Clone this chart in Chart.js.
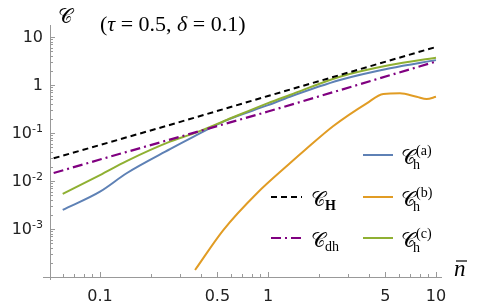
<!DOCTYPE html>
<html>
<head>
<meta charset="utf-8">
<script src="https://cdn.jsdelivr.net/npm/chart.js@4.4.1/dist/chart.umd.min.js"></script>
<style>
html, body { margin: 0; padding: 0; background: #fff; }
#wrap { width: 482px; height: 306px; }
</style>
</head>
<body>
<div id="wrap"><canvas id="grafico" width="482" height="306"></canvas></div>
<script>
// Valores (n̄, C)
const nH = [0.053, 0.26, 1, 10];
const cH = [0.0297, 0.147, 0.59, 6.2];

const nDh = [0.053, 0.1, 1, 10];
const cDh = [0.0147, 0.028, 0.28, 3.08];

const nA = [0.06, 0.1, 0.144, 0.261, 0.359, 0.568, 1, 1.35, 2.68, 5.33, 10];
const cA = [0.0025, 0.006, 0.0145, 0.046, 0.083, 0.185, 0.38, 0.57, 1.27, 2.23, 3.3];

const nB = [0.368, 0.542, 0.857, 1.35, 1.66, 2.45, 3.87, 4.86, 6.1, 7.67, 8.8, 10];
const cB = [0.00014, 0.00095, 0.0055, 0.0234, 0.0442, 0.14, 0.416, 0.65, 0.67, 0.57, 0.51, 0.57];

const nC = [0.06, 0.1, 0.144, 0.261, 0.359, 0.568, 1, 1.35, 2.68, 5.33, 10];
const cC = [0.0054, 0.0133, 0.026, 0.066, 0.097, 0.187, 0.42, 0.62, 1.49, 2.61, 3.7];

// Marcas de los ejes
const xTicks = [0.1, 0.5, 1, 5, 10];
const xTickLabels = ['0.1', '0.5', '1', '5', '10'];
const xMinor = [0.06, 0.07, 0.08, 0.09, 0.2, 0.3, 0.4, 0.6, 0.7, 0.8, 0.9, 2, 3, 4, 6, 7, 8, 9];
const yTicks = [10, 1, 0.1, 0.01, 0.001, 0.0001];
const yTickLabels = [['10', ''], ['1', ''], ['10', '-1'], ['10', '-2'], ['10', '-3'], ['', '']];

const azul = '#5E81B5';
const naranja = '#E19C24';
const verde = '#8FB032';
const morado = '#800080';

const serif = '"Liberation Serif", "DejaVu Serif", serif';
const sans = '"DejaVu Sans", sans-serif';

function puntos(xs, ys) {
    return xs.map((x, i) => ({ x: x, y: ys[i] }));
}

// Dibuja texto en trozos (cursiva, subíndices...)
function trozos(ctx, x, y, partes) {
    partes.forEach(p => {
        ctx.font = p.f;
        ctx.fillText(p.t, x, y + (p.dy || 0));
        x += ctx.measureText(p.t).width;
    });
    return x;
}

function letraC(ctx, x, y, size) {
    ctx.font = size + 'px ' + serif;
    ctx.fillText('𝒞', x, y);
    return x + ctx.measureText('𝒞').width;
}

const ejes = {
    id: 'ejes',
    afterDraw(chart) {
        const ctx = chart.ctx;
        const xs = chart.scales.x;
        const ys = chart.scales.y;
        const area = chart.chartArea;
        const x0 = area.left, y0 = area.bottom;

        ctx.save();
        ctx.strokeStyle = '#999';
        ctx.lineWidth = 1;
        ctx.setLineDash([]);
        ctx.beginPath();
        ctx.moveTo(x0 - 7, y0 + 0.5);
        ctx.lineTo(area.right, y0 + 0.5);
        ctx.moveTo(x0 + 0.5, area.top);
        ctx.lineTo(x0 + 0.5, y0 + 3);
        ctx.stroke();

        // marcas eje x
        ctx.beginPath();
        xTicks.forEach(v => {
            const px = Math.round(xs.getPixelForValue(v)) + 0.5;
            ctx.moveTo(px, y0); ctx.lineTo(px, y0 - 5);
        });
        xMinor.forEach(v => {
            const px = Math.round(xs.getPixelForValue(v)) + 0.5;
            ctx.moveTo(px, y0); ctx.lineTo(px, y0 - 3);
        });
        // marcas eje y
        yTicks.forEach((v, i) => {
            const py = Math.round(ys.getPixelForValue(v)) + 0.5;
            ctx.moveTo(x0, py); ctx.lineTo(x0 + 5, py);
            if (i > 0) {
                for (let k = 2; k <= 9; k++) {
                    const pm = Math.round(ys.getPixelForValue(v * k)) + 0.5;
                    ctx.moveTo(x0, pm); ctx.lineTo(x0 + 3, pm);
                }
            }
        });
        for (let k = 2; k <= 9 && 10 * k <= ys.max; k++) {
            const pm = Math.round(ys.getPixelForValue(10 * k)) + 0.5;
            ctx.moveTo(x0, pm); ctx.lineTo(x0 + 3, pm);
        }
        ctx.stroke();

        // etiquetas
        ctx.fillStyle = '#222';
        ctx.textBaseline = 'alphabetic';
        ctx.textAlign = 'center';
        ctx.font = '16px ' + sans;
        xTicks.forEach((v, i) => {
            ctx.fillText(xTickLabels[i], xs.getPixelForValue(v), 301);
        });
        ctx.textAlign = 'left';
        yTicks.forEach((v, i) => {
            const [base, exp] = yTickLabels[i];
            if (!base) return;
            const py = ys.getPixelForValue(v);
            ctx.font = '16px ' + sans;
            const wb = ctx.measureText(base).width;
            ctx.font = '11px ' + sans;
            const we = exp ? ctx.measureText(exp).width : 0;
            const xi = x0 - 7 - wb - we;
            ctx.font = '16px ' + sans;
            ctx.fillText(base, xi, py + 5);
            if (exp) {
                ctx.font = '11px ' + sans;
                ctx.fillText(exp, xi + wb, py - 1);
            }
        });

        // título y etiqueta del eje
        ctx.fillStyle = '#000';
        letraC(ctx, 58, 23, 20);
        trozos(ctx, 100, 31, [
            { t: '(', f: '22px ' + serif },
            { t: 'τ', f: 'italic 22px ' + serif },
            { t: ' = 0.5, ', f: '22px ' + serif },
            { t: 'δ', f: 'italic 22px ' + serif },
            { t: ' = 0.1)', f: '22px ' + serif }
        ]);
        ctx.font = 'italic 23px ' + serif;
        ctx.fillText('n', 454, 276);
        ctx.beginPath();
        ctx.strokeStyle = '#000';
        ctx.lineWidth = 1.2;
        ctx.moveTo(456, 261); ctx.lineTo(467, 261);
        ctx.stroke();

        // leyenda
        const muestra = (xa, xb, y, color, dash, w) => {
            ctx.beginPath();
            ctx.strokeStyle = color;
            ctx.lineWidth = w;
            ctx.setLineDash(dash);
            ctx.moveTo(xa, y); ctx.lineTo(xb, y);
            ctx.stroke();
            ctx.setLineDash([]);
        };
        muestra(363, 393, 155, azul, [], 2);
        muestra(363, 393, 197, naranja, [], 2);
        muestra(363, 393, 238, verde, [], 2);
        muestra(271, 302, 197, '#000', [6, 4], 2);
        muestra(271, 302, 238, morado, [10, 4, 2, 4], 2.2);

        ctx.fillStyle = '#000';
        [['(a)', 164], ['(b)', 206], ['(c)', 247]].forEach(([s, yb]) => {
            const xe = letraC(ctx, 401, yb, 20);
            ctx.font = '14px ' + serif;
            ctx.fillText('h', xe - 3, yb + 5);
            ctx.fillText(s, xe, yb - 9);
        });
        let xe = letraC(ctx, 311, 206, 20);
        ctx.font = 'bold 14px ' + serif;
        ctx.fillText('H', xe - 1, 210);
        xe = letraC(ctx, 311, 247, 20);
        ctx.font = '14px ' + serif;
        ctx.fillText('dh', xe - 1, 251);
        ctx.restore();
    }
};

const ctx = document.getElementById('grafico').getContext('2d');

new Chart(ctx, {
    type: 'line',
    data: {
        datasets: [
            { label: 'C_H', data: puntos(nH, cH), borderColor: '#000', borderWidth: 2, borderDash: [6, 4] },
            { label: 'C_dh', data: puntos(nDh, cDh), borderColor: morado, borderWidth: 2.2, borderDash: [10, 4, 2, 4] },
            { label: 'C_h(c)', data: puntos(nC, cC), borderColor: verde, borderWidth: 2, cubicInterpolationMode: 'monotone' },
            { label: 'C_h(a)', data: puntos(nA, cA), borderColor: azul, borderWidth: 2, cubicInterpolationMode: 'monotone' },
            { label: 'C_h(b)', data: puntos(nB, cB), borderColor: naranja, borderWidth: 2, cubicInterpolationMode: 'monotone' }
        ]
    },
    options: {
        responsive: false,
        animation: false,
        devicePixelRatio: 1,
        layout: { padding: { left: 50, right: 40, top: 25, bottom: 29 } },
        elements: { point: { radius: 0 } },
        plugins: { legend: { display: false }, tooltip: { enabled: false } },
        scales: {
            x: { type: 'logarithmic', min: 0.0504, max: 10.86, display: false },
            y: { type: 'logarithmic', min: 0.0001, max: 17.8, display: false }
        }
    },
    plugins: [ejes]
});
</script>
</body>
</html>
